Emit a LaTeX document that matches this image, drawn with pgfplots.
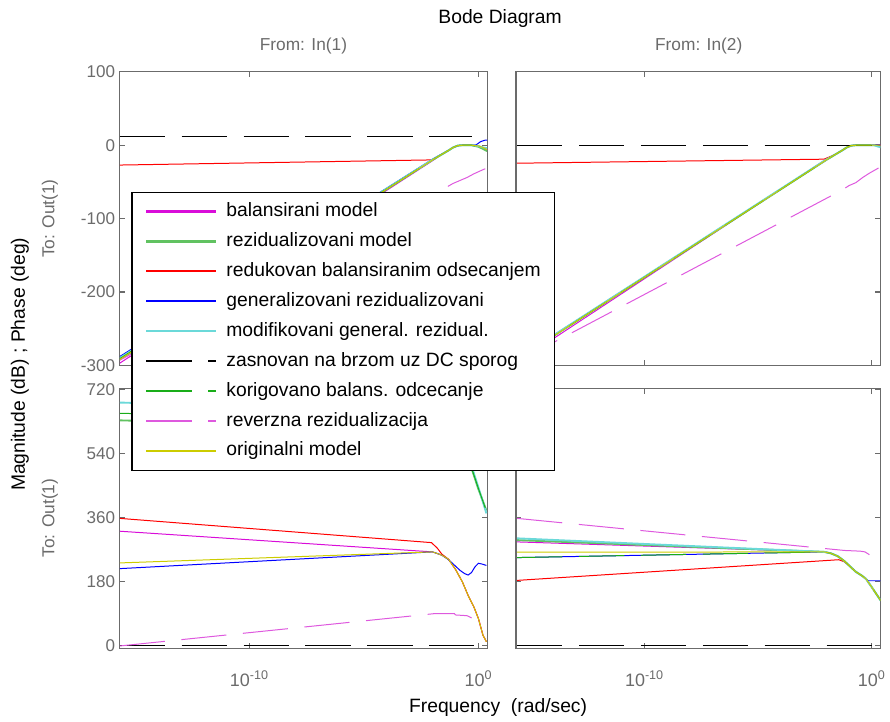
\documentclass[border=0pt]{standalone}
\usepackage{pgfplots}
\pgfplotsset{compat=1.18}
\usepackage{fontspec}
\setmainfont{Liberation Sans}
\definecolor{axgray}{rgb}{0.42,0.42,0.42}
\definecolor{cMag}{rgb}{0.85,0.05,0.85}
\definecolor{cGreenR}{rgb}{0.38,0.76,0.38}
\definecolor{cRed}{rgb}{1,0,0}
\definecolor{cBlue}{rgb}{0,0,1}
\definecolor{cCyan}{rgb}{0.42,0.85,0.85}
\definecolor{cGreenK}{rgb}{0.1,0.68,0.1}
\definecolor{cMagD}{rgb}{0.87,0.35,0.87}
\definecolor{cYel}{rgb}{0.8,0.8,0}
\pgfplotsset{
  bodeax/.style={
    scale only axis, anchor=south west,
    xmin=-15.65, xmax=0.38,
    xtick={-10,0},
    tick pos=both, tick align=inside,
    major tick length=4pt,
    axis line style={draw=axgray, line width=0.9pt},
    tick style={draw=axgray, line width=0.8pt},
    ticklabel style={font=\fontsize{12.8}{14}\selectfont, text=axgray},
    xticklabel style={font=\fontsize{13.5}{15}\selectfont, text=axgray, yshift=-13pt},
  },
}
\begin{document}
\begin{tikzpicture}
\path (0,0) rectangle (890*0.75pt,-722*0.75pt);

% ---------- top right: magnitude, In(2)
\begin{axis}[bodeax, at={(517*0.75pt,-366*0.75pt)}, width=273.75pt, height=220.5pt,
  ymin=-300, ymax=100, ytick={-300,-200,-100,0,100}, yticklabels={}, xticklabels={}]
\addplot[color=cMag, line width=0.75pt] coordinates {(-15.6,-296) (-2.1,-21) (-1.6,-12.5) (-1.3,-7) (-1.1,-3) (-0.9,-0.5) (-0.7,0) (0.4,0)};
\addplot[color=cGreenR, line width=1.4pt] coordinates {(-15.6,-292) (-2,-20) (-1.6,-12.5) (-1.3,-7) (-1.1,-3) (-0.9,-0.5) (-0.7,0) (0.2,0) (0.4,-1)};
\addplot[color=cRed, line width=0.75pt] coordinates {(-15.6,-24.5) (-2.1,-19) (-1.6,-12.5) (-1.3,-7) (-1.1,-3) (-0.9,-0.5) (-0.7,0) (0.4,0)};
\addplot[color=cBlue, line width=0.75pt] coordinates {(-15.6,-291) (-2,-20) (-1.6,-12.5) (-1.3,-7) (-1.1,-3) (-0.9,-0.5) (-0.7,0) (0.4,0.5)};
\addplot[color=cCyan, line width=1.4pt] coordinates {(-15.6,-291) (-2,-19.5) (-1.6,-12.5) (-1.3,-7) (-1.1,-3) (-0.9,-0.5) (-0.7,0) (0.1,0) (0.4,-3)};
\addplot[color=black, line width=0.75pt, dash pattern=on 34pt off 12.5pt] coordinates {(-15.6,0) (0.4,0)};
\addplot[color=cGreenK, line width=0.75pt, dash pattern=on 34pt off 12.5pt] coordinates {(-15.6,-292) (-2,-20) (-1.6,-12.5) (-1.3,-7) (-1.1,-3) (-0.9,-0.5) (-0.7,0) (0.2,0) (0.4,-2)};
\addplot[color=cMagD, line width=0.75pt, dash pattern=on 34pt off 12.5pt] coordinates {(-15.6,-295) (-1.3,-61) (-1.0,-55) (-0.7,-51) (-0.4,-44) (-0.1,-38) (0.3,-31)};
\addplot[color=cYel, line width=0.75pt] coordinates {(-15.6,-292) (-2,-20) (-1.6,-12.5) (-1.3,-7) (-1.1,-3) (-0.9,-0.5) (-0.7,0) (0.4,0)};
\end{axis}

% ---------- bottom left: phase, In(1)
\begin{axis}[bodeax, at={(120*0.75pt,-650*0.75pt)}, width=276pt, height=195.75pt,
  ymin=-8, ymax=723, ytick={0,180,360,540,720}, yticklabels={0,180,360,540,720},
  xticklabels={10\textsuperscript{-10},10\textsuperscript{0}}]
\addplot[color=cMag, line width=0.75pt] coordinates {(-15.65,322) (-2,264) (-1.6,255) (-1.3,243) (-1.0,215) (-0.7,180) (-0.45,142) (-0.2,110) (0,77) (0.2,30) (0.35,12)};
\addplot[color=cGreenR, line width=1.4pt] coordinates {(-15.65,633) (-8,622) (-2,600) (-1,570) (-0.5,530) (-0.3,499) (0,440) (0.35,380)};
\addplot[color=cRed, line width=0.75pt] coordinates {(-15.65,358) (-2.05,290) (-1.8,275) (-1.6,258) (-1.3,243) (-1.0,215) (-0.7,180) (-0.45,142) (-0.2,110) (0,77) (0.2,30) (0.35,12)};
\addplot[color=cBlue, line width=0.75pt] coordinates {(-15.65,217) (-2,264) (-1.6,255) (-1.3,242) (-1.0,224) (-0.8,212) (-0.6,203) (-0.45,199) (-0.3,206) (-0.15,222) (0,232) (0.15,230) (0.35,226)};
\addplot[color=cCyan, line width=1.4pt] coordinates {(-15.65,683) (-8,670) (-2,650) (-1,610) (-0.3,505) (0,445) (0.35,372)};
\addplot[color=black, line width=0.75pt, dash pattern=on 34pt off 12.5pt] coordinates {(-15.65,0) (0.3,0)};
\addplot[color=cGreenK, line width=0.75pt, dash pattern=on 34pt off 12.5pt] coordinates {(-15.65,653) (-8,640) (-2,620) (-1,590) (-0.3,500) (0,442) (0.35,378)};
\addplot[color=cMagD, line width=0.75pt, dash pattern=on 34pt off 12.5pt] coordinates {(-15.65,0) (-1.88,91) (-1.05,91) (-1.0,87) (-0.5,85) (-0.4,82) (0.22,62) (0.3,60)};
\addplot[color=cYel, line width=0.75pt] coordinates {(-15.65,233) (-2,264) (-1.6,255) (-1.3,243) (-1.0,215) (-0.7,180) (-0.45,142) (-0.2,110) (0,77) (0.2,30) (0.35,12)};
\end{axis}

% ---------- bottom right: phase, In(2)
\begin{axis}[bodeax, at={(517*0.75pt,-650*0.75pt)}, width=273.75pt, height=195.75pt,
  ymin=-8, ymax=723, ytick={0,180,360,540,720}, yticklabels={},
  xticklabels={10\textsuperscript{-10},10\textsuperscript{0}}]
\addplot[color=cMag, line width=0.75pt] coordinates {(-15.6,292) (-2.1,264) (-1.8,260) (-1.5,252) (-1.2,238) (-0.9,220) (-0.7,208) (-0.45,198) (-0.25,188) (0,165) (0.2,146) (0.4,127)};
\addplot[color=cGreenR, line width=1.4pt] coordinates {(-15.6,297) (-2.1,264) (-1.8,260) (-1.5,252) (-1.2,238) (-0.9,220) (-0.7,208) (-0.45,198) (-0.25,188) (0,165) (0.2,146) (0.4,127)};
\addplot[color=cRed, line width=0.75pt] coordinates {(-15.6,184) (-1.45,242) (-1.2,236) (-0.9,220) (-0.7,208) (-0.45,198) (-0.25,188) (0,165) (0.2,146) (0.4,127)};
\addplot[color=cBlue, line width=0.75pt] coordinates {(-15.6,248) (-2.1,264) (-1.8,260) (-1.5,252) (-1.2,238) (-0.9,220) (-0.7,208) (-0.45,198) (-0.25,188) (-0.15,183) (0.4,183)};
\addplot[color=cCyan, line width=1.4pt] coordinates {(-15.6,302) (-2.1,264) (-1.8,260) (-1.5,252) (-1.2,238) (-0.9,220) (-0.7,208) (-0.45,198) (-0.25,188) (0,165) (0.2,146) (0.4,127)};
\addplot[color=black, line width=0.75pt, dash pattern=on 34pt off 12.5pt] coordinates {(-15.6,0) (0.4,0)};
\addplot[color=cGreenK, line width=0.75pt, dash pattern=on 34pt off 12.5pt] coordinates {(-15.6,248) (-2.1,264) (-1.8,260) (-1.5,252) (-1.2,238) (-0.9,220) (-0.7,208) (-0.45,198) (-0.25,188) (0,165) (0.2,146) (0.4,127)};
\addplot[color=cMagD, line width=0.75pt, dash pattern=on 34pt off 12.5pt] coordinates {(-15.6,358) (-1.2,268) (-0.5,266) (-0.3,264) (0.0,252) (0.4,236)};
\addplot[color=cYel, line width=0.75pt] coordinates {(-15.6,263) (-2.1,264) (-1.8,260) (-1.5,252) (-1.2,238) (-0.9,220) (-0.7,208) (-0.45,198) (-0.25,188) (0,165) (0.2,146) (0.4,127)};
\end{axis}

% ---------- top left: magnitude, In(1) (with legend, drawn last)
\begin{axis}[bodeax, at={(120*0.75pt,-366*0.75pt)}, width=276pt, height=220.5pt,
  ymin=-300, ymax=100, ytick={-300,-200,-100,0,100}, yticklabels={-300,-200,-100,0,100},
  xticklabels={},
  legend cell align=left,
  legend image code/.code={\draw[#1] plot coordinates {(0pt,0pt) (26pt,0pt) (52.5pt,0pt)};},
  legend style={at={(axis description cs:0.0318,0.592)}, anchor=north west,
    draw=black, thick, fill=white, inner xsep=10pt, inner ysep=7.25pt,
    font=\fontsize{14.5}{17}\selectfont, row sep=8pt, column sep=6.75pt,
    nodes={inner sep=0pt, text height=11pt, text depth=3.5pt}}]
\addplot[forget plot, color=cMag, line width=0.75pt] coordinates {(-15.65,-297) (-2.0,-21) (-1.6,-12.5) (-1.3,-7) (-1.1,-3) (-0.9,-0.5) (-0.7,0) (-0.3,0) (0,-1) (0.2,-3) (0.38,-6)};
\addplot[forget plot, color=cGreenR, line width=1.4pt] coordinates {(-15.65,-292) (-2.0,-20) (-1.6,-12.5) (-1.3,-7) (-1.1,-3) (-0.9,-0.5) (-0.7,0) (-0.3,0) (0,-2) (0.2,-5) (0.38,-8)};
\addplot[forget plot, color=cRed, line width=0.75pt] coordinates {(-15.65,-27) (-2.05,-20) (-1.6,-12.5) (-1.3,-7) (-1.1,-3) (-0.9,-0.5) (-0.7,0) (-0.3,0) (0,-1) (0.2,-3) (0.38,-5)};
\addplot[forget plot, color=cBlue, line width=0.75pt] coordinates {(-15.65,-288) (-2.0,-19) (-1.6,-12) (-1.3,-7) (-1.1,-3) (-0.9,-0.5) (-0.7,0) (-0.3,0) (-0.1,0.5) (0.1,5) (0.3,7) (0.38,7)};
\addplot[forget plot, color=cCyan, line width=1.4pt] coordinates {(-15.65,-290) (-2.0,-19.5) (-1.6,-12.5) (-1.3,-7) (-1.1,-3) (-0.9,-0.5) (-0.7,0) (-0.3,0) (0,-1) (0.2,-3) (0.38,-4)};
\addplot[forget plot, color=black, line width=0.75pt, dash pattern=on 34pt off 12.5pt] coordinates {(-15.65,12) (-0.3,12)};
\addplot[forget plot, color=cGreenK, line width=0.75pt, dash pattern=on 34pt off 12.5pt] coordinates {(-15.65,-291) (-2.0,-20) (-1.6,-12.5) (-1.3,-7) (-1.1,-3) (-0.9,-0.5) (-0.7,0) (-0.3,0) (0,-2) (0.2,-5) (0.38,-8)};
\addplot[forget plot, color=cMagD, line width=0.75pt, dash pattern=on 34pt off 12.5pt] coordinates {(-15.65,-293) (-1.44,-58) (-1.1,-52) (-0.8,-48) (-0.5,-44) (-0.2,-39) (0.15,-34) (0.3,-32)};
\addplot[forget plot, color=cYel, line width=0.75pt] coordinates {(-15.65,-292) (-2.0,-20) (-1.6,-12.5) (-1.3,-7) (-1.1,-3) (-0.9,-0.5) (-0.7,0) (-0.3,0) (0,-1) (0.2,-3) (0.38,-6)};
\addlegendimage{color=cMag, draw=cMag, line width=1.7pt}
\addlegendentry{balansirani model}
\addlegendimage{color=cGreenR, line width=1.7pt}
\addlegendentry{rezidualizovani model}
\addlegendimage{color=cRed, line width=1.4pt}
\addlegendentry{redukovan balansiranim odsecanjem}
\addlegendimage{color=cBlue, line width=1.4pt}
\addlegendentry{generalizovani rezidualizovani}
\addlegendimage{color=cCyan, line width=1.7pt}
\addlegendentry{modifikovani general. rezidual.}
\addlegendimage{color=black, line width=1.15pt, dash pattern=on 34pt off 12.5pt}
\addlegendentry{zasnovan na brzom uz DC sporog}
\addlegendimage{color=cGreenK, line width=1.15pt, dash pattern=on 34pt off 12.5pt}
\addlegendentry{korigovano balans. odcecanje}
\addlegendimage{color=cMagD, line width=1.15pt, dash pattern=on 34pt off 12.5pt}
\addlegendentry{reverzna rezidualizacija}
\addlegendimage{color=cYel, line width=1.15pt}
\addlegendentry{originalni model}
\end{axis}

% ---------- titles and labels
\node[font=\fontsize{14.5}{17}\selectfont] at (501*0.75pt,-19*0.75pt) {Bode Diagram};
\node[font=\fontsize{13}{15}\selectfont, text=axgray] at (304*0.75pt,-46*0.75pt) {From: In(1)};
\node[font=\fontsize{13}{15}\selectfont, text=axgray] at (700*0.75pt,-46*0.75pt) {From: In(2)};
\node[font=\fontsize{13}{15}\selectfont, text=axgray, rotate=90] at (50*0.75pt,-219*0.75pt) {To: Out(1)};
\node[font=\fontsize{13}{15}\selectfont, text=axgray, rotate=90] at (50*0.75pt,-519*0.75pt) {To: Out(1)};
\node[font=\fontsize{14.5}{17}\selectfont, rotate=90] at (20*0.75pt,-365*0.75pt) {Magnitude (dB) ; Phase (deg)};
\node[font=\fontsize{14.5}{17}\selectfont] at (499*0.75pt,-709*0.75pt) {Frequency\ \ (rad/sec)};
\end{tikzpicture}
\end{document}
